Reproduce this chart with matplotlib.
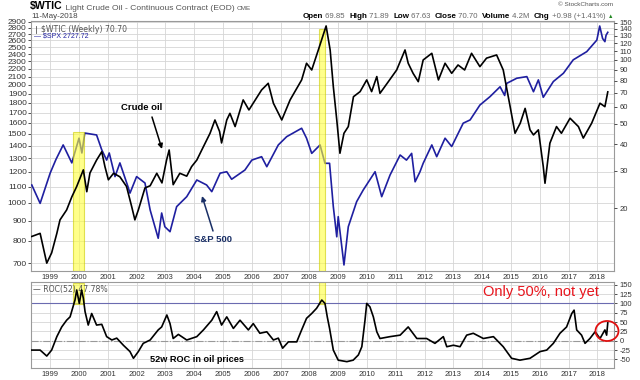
import matplotlib
matplotlib.use('Agg')
import matplotlib.pyplot as plt
from matplotlib.patches import Ellipse
from matplotlib.ticker import FixedLocator, NullLocator, FixedFormatter

plt.rcParams['font.family'] = ['Liberation Sans', 'DejaVu Sans']

# ---------------- data ----------------
spx_t = [1998.36, 1998.65, 1999.0, 1999.2, 1999.45, 1999.75, 2000.0, 2000.1, 2000.2, 2000.61,
         2000.79, 2000.96, 2001.05, 2001.25, 2001.42, 2001.7, 2001.77, 2002.0, 2002.29, 2002.47,
         2002.75, 2002.87, 2002.98, 2003.16, 2003.39, 2003.74, 2004.09, 2004.43, 2004.61, 2004.9,
         2005.13, 2005.3, 2005.76, 2006.0, 2006.34, 2006.52, 2006.92, 2007.21, 2007.73, 2007.9,
         2008.08, 2008.37, 2008.54, 2008.7, 2008.83, 2008.95, 2009.0, 2009.2, 2009.35, 2009.64,
         2009.87, 2010.28, 2010.51, 2010.8, 2011.15, 2011.37, 2011.55, 2011.67, 2011.84, 2011.95,
         2012.25, 2012.42, 2012.71, 2012.94, 2013.34, 2013.58, 2013.92, 2014.27, 2014.62, 2014.78,
         2014.85, 2015.2, 2015.55, 2015.78, 2015.95, 2016.12, 2016.47, 2016.82, 2017.16, 2017.63,
         2017.98, 2018.08, 2018.18, 2018.26, 2018.3, 2018.36]
spx_v = [1110, 996, 1191, 1290, 1405, 1264, 1462, 1340, 1507, 1490,
         1365, 1285, 1340, 1166, 1264, 1099, 1058, 1166, 1123, 958,
         811, 941, 868, 843, 977, 1036, 1143, 1110, 1067, 1190,
         1200, 1148, 1212, 1285, 1311, 1236, 1405, 1475, 1550, 1462,
         1337, 1405, 1261, 1261, 977, 818, 921, 693, 868, 1006,
         1078, 1200, 1036, 1177, 1324, 1285, 1337, 1131, 1200, 1261,
         1405, 1311, 1462, 1392, 1597, 1628, 1777, 1867, 1979, 1880,
         2019, 2081, 2101, 1922, 2061, 1860, 2041, 2143, 2319, 2434,
         2605, 2830, 2630, 2581, 2680, 2727]

oil_t = [1998.36, 1998.65, 1998.88, 1999.05, 1999.23, 1999.34, 1999.57, 1999.75, 1999.92, 2000.15,
         2000.27, 2000.38, 2000.61, 2000.79, 2000.90, 2001.02, 2001.20, 2001.42, 2001.65, 2001.83,
         2001.94, 2002.06, 2002.29, 2002.47, 2002.70, 2002.88, 2003.04, 2003.13, 2003.27, 2003.50,
         2003.74, 2003.91, 2004.09, 2004.32, 2004.55, 2004.72, 2004.88, 2004.95, 2005.13, 2005.24,
         2005.42, 2005.70, 2005.90, 2006.34, 2006.57, 2006.75, 2007.04, 2007.33, 2007.73, 2007.90,
         2008.08, 2008.31, 2008.58, 2008.72, 2008.83, 2008.95, 2009.06, 2009.20, 2009.35, 2009.53,
         2009.76, 2009.99, 2010.16, 2010.34, 2010.45, 2010.70, 2011.03, 2011.32, 2011.43, 2011.60,
         2011.78, 2011.95, 2012.25, 2012.48, 2012.71, 2012.94, 2013.16, 2013.39, 2013.63, 2013.92,
         2014.15, 2014.50, 2014.73, 2014.97, 2015.14, 2015.32, 2015.49, 2015.66, 2015.78, 2015.95,
         2016.12, 2016.18, 2016.35, 2016.58, 2016.75, 2017.05, 2017.34, 2017.51, 2017.80, 2018.09,
         2018.26, 2018.36]
oil_v = [14.7, 15.2, 11.0, 12.3, 15.2, 17.6, 19.6, 22.6, 25.3, 30.3,
         23.9, 29.3, 33.7, 36.9, 31.4, 27.2, 29.2, 28.1, 25.3, 20.3,
         17.6, 19.6, 24.9, 25.5, 29.2, 26.3, 33.7, 37.6, 25.8, 29.2,
         28.3, 31.4, 33.7, 39.0, 45.1, 52.1, 46.0, 40.6, 52.1, 56.0,
         48.5, 64.8, 58.1, 72.2, 77.6, 62.5, 52.1, 64.8, 80.5, 96.5,
         89.7, 111.5, 144.7, 111.5, 74.9, 52.1, 36.3, 45.1, 48.5, 67.1,
         70.9, 80.5, 70.9, 83.5, 69.6, 77.6, 89.7, 111.5, 96.5, 86.5,
         79.0, 100.0, 107.5, 80.5, 96.5, 86.5, 94.7, 89.7, 107.5, 93.0,
         102.0, 105.6, 89.7, 60.2, 45.1, 50.3, 59.1, 46.8, 44.3, 46.8,
         31.4, 26.2, 40.5, 48.5, 45.1, 53.1, 48.5, 42.8, 50.3, 62.5,
         60.2, 70.7]

roc_t = [1998.36, 1998.65, 1998.88, 1999.05, 1999.23, 1999.40, 1999.57, 1999.69, 1999.86, 1999.92,
         2000.01, 2000.09, 2000.15, 2000.21, 2000.32, 2000.44, 2000.61, 2000.79, 2000.96, 2001.14,
         2001.31, 2001.54, 2001.77, 2001.89, 2002.06, 2002.23, 2002.47, 2002.75, 2002.87, 2003.05,
         2003.16, 2003.27, 2003.45, 2003.74, 2004.09, 2004.32, 2004.61, 2004.78, 2004.95, 2005.13,
         2005.36, 2005.59, 2005.88, 2006.05, 2006.28, 2006.52, 2006.75, 2006.92, 2007.07, 2007.27,
         2007.56, 2007.73, 2007.90, 2008.08, 2008.25, 2008.43, 2008.54, 2008.62, 2008.70, 2008.83,
         2009.00, 2009.30, 2009.52, 2009.70, 2009.82, 2009.93, 2009.99, 2010.10, 2010.22, 2010.34,
         2010.45, 2010.80, 2011.15, 2011.43, 2011.73, 2012.07, 2012.36, 2012.65, 2012.77, 2013.00,
         2013.23, 2013.46, 2013.69, 2014.04, 2014.39, 2014.73, 2015.02, 2015.31, 2015.66, 2016.01,
         2016.24, 2016.47, 2016.70, 2016.93, 2017.11, 2017.19, 2017.28, 2017.45, 2017.57, 2017.74,
         2017.92, 2018.09, 2018.26, 2018.32, 2018.36]
roc_v = [-25, -25, -41, -25, 11, 37, 55, 64, 109, 136,
         100, 136, 114, 78, 42, 73, 42, 44, 11, 2,
         7, -12, -29, -47, -29, -7, 2, 29, 37, 69,
         46, 6, 17, 2, 11, 29, 55, 78, 42, 64,
         33, 55, 29, 46, 20, 24, 2, 7, -20, -3,
         -3, 29, 60, 73, 87, 109, 100, 64, 33, -25,
         -52, -56, -52, -38, -16, 55, 100, 91, 64, 24,
         6, 11, 15, 37, 6, 6, -7, 11, -16, -12,
         -16, 15, 20, 6, 11, -16, -47, -52, -47, -29,
         -25, -7, 20, 37, 73, 82, 29, 15, -7, 6,
         24, 6, 29, 15, 47.78]

years = list(range(1999, 2019))
spx_ticks = list(range(700, 3000, 100))
oil_ticks = [20, 30, 40, 50, 60, 70, 80, 90, 100, 110, 120, 130, 140, 150]
roc_ticks = [-50, -25, 0, 25, 50, 75, 100, 125, 150]

# ---------------- layout ----------------
W, H = 640, 380
fig = plt.figure(figsize=(6.4, 3.8), dpi=100)
fig.patch.set_facecolor('white')


def rect(l, t, r, b):
    return [l / W, 1 - b / H, (r - l) / W, (b - t) / H]


XL = (1998.333, 2018.576)
SPX_C = '#1f1fa0'
GRID = '#d6d6d6'
SPINE = '#9a9a9a'
TXT = '#333333'

# main panel
ax = fig.add_axes(rect(31, 21, 614, 271))
ax.set_yscale('log')
ax.set_xlim(*XL)
ax.set_ylim(668.8, 2915)
ax.yaxis.set_major_locator(FixedLocator(spx_ticks))
ax.yaxis.set_major_formatter(FixedFormatter([str(v) for v in spx_ticks]))
ax.yaxis.set_minor_locator(NullLocator())
ax.set_xticks(years)
ax.set_xticklabels([str(y) for y in years])
ax.tick_params(axis='y', labelsize=6, colors=TXT, length=2, pad=1, width=0.6)
ax.tick_params(axis='x', labelsize=5.5, colors=TXT, length=0, pad=2)
ax.grid(True, axis='both', color=GRID, lw=0.6)
ax.set_axisbelow(True)
for s in ax.spines.values():
    s.set_color(SPINE)
    s.set_linewidth(0.8)

ax.plot(spx_t, spx_v, color=SPX_C, lw=1.2, zorder=3)

ax2 = ax.twinx()
ax2.set_yscale('log')
ax2.set_ylim(10.1, 152.7)
ax2.set_xlim(*XL)
ax2.yaxis.set_major_locator(FixedLocator(oil_ticks))
ax2.yaxis.set_major_formatter(FixedFormatter([str(v) for v in oil_ticks]))
ax2.yaxis.set_minor_locator(NullLocator())
ax2.tick_params(axis='y', labelsize=5.5, colors=TXT, length=2, pad=2, width=0.6)
for s in ax2.spines.values():
    s.set_visible(False)
ax2.plot(oil_t, oil_v, color='black', lw=1.2, zorder=4)

# yellow highlight bands (main panel)
ax2.axvspan(1999.79, 2000.17, ymin=0, ymax=0.556, facecolor='#ffff3c', alpha=0.6,
            edgecolor='#cccc00', lw=0.8, zorder=2)
ax2.axvspan(2008.34, 2008.55, ymin=0, ymax=0.968, facecolor='#ffff3c', alpha=0.6,
            edgecolor='#cccc00', lw=0.8, zorder=2)

# legend texts
ax.text(0.018, 0.985, '$WTIC (Weekly) 70.70', transform=ax.transAxes, fontsize=5.6,
        family='DejaVu Sans', color='#555555', va='top', ha='left')
ax.plot([0.008, 0.008], [0.952, 0.98], transform=ax.transAxes, color='#555555', lw=0.6)
ax.text(0.006, 0.953, '\u2014 $SPX 2727.72', transform=ax.transAxes, fontsize=5,
        color=SPX_C, va='top', ha='left')

# ROC panel
bx = fig.add_axes(rect(31, 281.5, 614, 368))
bx.set_xlim(*XL)
bx.set_ylim(-73, 158.7)
bx.yaxis.tick_right()
bx.set_yticks(roc_ticks)
bx.set_yticklabels([str(v) for v in roc_ticks])
bx.set_xticks(years)
bx.set_xticklabels([str(y) for y in years])
bx.tick_params(axis='y', labelsize=5.5, colors=TXT, length=2, pad=2, width=0.6)
bx.tick_params(axis='x', labelsize=5.5, colors=TXT, length=0, pad=2)
bx.grid(True, axis='both', color=GRID, lw=0.6)
bx.set_axisbelow(True)
for s in bx.spines.values():
    s.set_color(SPINE)
    s.set_linewidth(0.8)
bx.axhline(100, color='#6b6bb0', lw=0.8, zorder=2)
bx.axhline(0, color='#999999', lw=0.8, ls='-.', zorder=2)
bx.axvspan(1999.79, 2000.17, ymin=0.74, ymax=0.983, facecolor='#ffff3c', alpha=0.6,
           edgecolor='#cccc00', lw=0.8, zorder=2)
bx.axvspan(2008.34, 2008.55, ymin=0.74, ymax=1.0, facecolor='#ffff3c', alpha=0.6,
           edgecolor='#cccc00', lw=0.8, zorder=2)
bx.plot(roc_t, roc_v, color='black', lw=1.2, zorder=4)
bx.text(0.004, 0.955, '\u2014 ROC(52) 47.78%', transform=bx.transAxes, fontsize=5.6,
        family='DejaVu Sans', color='#555555', va='top', ha='left')

# ---------------- overlay in pixel coordinates ----------------
ov = fig.add_axes([0, 0, 1, 1], zorder=10)
ov.set_xlim(0, W)
ov.set_ylim(H, 0)
ov.axis('off')
ov.patch.set_alpha(0)


def chain(parts, x, y):
    prev = None
    for s, kw in parts:
        if prev is None:
            prev = ov.text(x, y, s, ha='left', va='bottom', **kw)
        else:
            prev = ov.annotate(s, xy=(1, 0), xycoords=prev, ha='left', va='bottom', **kw)
    return prev


chain([('$WTIC', dict(fontsize=7.6, fontweight='bold', color='black')),
       (' Light Crude Oil - Continuous Contract (EOD) ', dict(fontsize=6.1, color='#555555')),
       ('CME', dict(fontsize=4.6, color='#555555'))], 30, 11.5)
ov.text(31, 19.5, '11-May-2018', fontsize=5.8, color='#444444', ha='left', va='bottom')

B = dict(fontsize=5.8, fontweight='bold', color='black')
R = dict(fontsize=5.6, color='#666666')
chain([('Open', B), (' 69.85  ', R), ('High', B), (' 71.89  ', R), ('Low', B), (' 67.63  ', R),
       ('Close', B), (' 70.70  ', R), ('Volume', B), (' 4.2M  ', R), ('Chg', B),
       (' +0.98 (+1.41%) ', R), ('\u25b2', dict(fontsize=4, color='#228822'))], 303, 19.5)
ov.text(613, 7.5, '\u00a9 StockCharts.com', fontsize=4.6, color='#555555', ha='right', va='bottom')

# annotations
ov.text(142, 108, 'Crude oil', fontsize=6.8, fontweight='bold', color='black', ha='center', va='center')
ov.annotate('', xy=(162, 149), xytext=(152, 117),
            arrowprops=dict(arrowstyle='-|>', color='black', lw=1.1, mutation_scale=7, shrinkA=0, shrinkB=0))
ov.text(213, 240, 'S&P 500', fontsize=6.8, fontweight='bold', color='#1a2f66', ha='center', va='center')
ov.annotate('', xy=(202, 196), xytext=(213, 231),
            arrowprops=dict(arrowstyle='-|>', color='#1a2f66', lw=1.1, mutation_scale=7, shrinkA=0, shrinkB=0))
ov.text(197, 359, '52w ROC in oil prices', fontsize=6.6, fontweight='bold', color='black',
        ha='center', va='center')
ov.text(541, 292, 'Only 50%, not yet', fontsize=10.5, color='#e8141c', ha='center', va='center')
ov.add_patch(Ellipse((607, 331), 23, 20, fill=False, edgecolor='#e01010', lw=1.3))

fig.savefig('out.png', dpi=100, facecolor='white')
